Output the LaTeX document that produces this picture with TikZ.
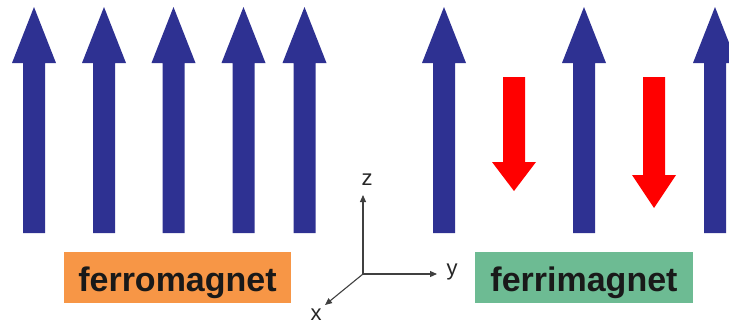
\documentclass[tikz,border=0pt]{standalone}
\usepackage{fontspec}
\setmainfont{Liberation Sans}
\usepackage{xcolor}
\usetikzlibrary{arrows.meta, positioning}

\definecolor{spinblue}{HTML}{2E3192}
\definecolor{spinred}{HTML}{FF0000}
\definecolor{ferroorange}{HTML}{F79646}
\definecolor{ferrigreen}{HTML}{6DBB93}
\definecolor{axisgray}{HTML}{404040}

\tikzset{
  labelbox/.style={inner sep=0pt, minimum height=51pt, text height=27pt, text depth=0pt,
    font=\fontsize{34}{40}\selectfont\bfseries, text=black!90},
  axisline/.style={axisgray, line width=1.1pt, -{Triangle[length=7pt, width=6pt]}},
  axislabel/.style={font=\fontsize{22}{26}\selectfont, text=black!85, inner sep=0pt}
}

\begin{document}
\begin{tikzpicture}[x=1pt, y=-1pt]
  \useasboundingbox (0,0) rectangle (729,327);
  \clip (0,0) rectangle (729,327);

  % spin-up moments (ferromagnet and ferrimagnet)
  \foreach \c in {34, 104, 173.5, 243.5, 304.5, 444, 584, 715} {
    \fill[spinblue] (\c-11,233) -- (\c-11,63) -- (\c-22,63) -- (\c,7)
      -- (\c+22,63) -- (\c+11,63) -- (\c+11,233) -- cycle;
  }

  % smaller antiparallel moments
  \foreach \c/\b/\t in {514/162/191, 654/175/208} {
    \fill[spinred] (\c-11,77) -- (\c-11,\b) -- (\c-22,\b) -- (\c,\t)
      -- (\c+22,\b) -- (\c+11,\b) -- (\c+11,77) -- cycle;
  }

  % labels
  \node[labelbox, fill=ferroorange, minimum width=227pt] (ferro) at (177.5,277.5) {ferromagnet};
  \node[labelbox, fill=ferrigreen, minimum width=218pt] (ferri) at (584,277.5) {ferrimagnet};

  % coordinate axes
  \coordinate (origin) at (363,274);
  \coordinate (ztip) at (363,195);
  \coordinate (ytip) at (437,274);
  \coordinate (xtip) at (325,305);
  \draw[axisline] (origin) -- (ztip);
  \draw[axisline] (origin) -- (ytip);
  \draw[axisline] (origin) -- (xtip);
  \node[axislabel] (zlab) at (367,180) {z};
  \node[axislabel] (ylab) at (452,272) {y};
  \node[axislabel] (xlab) at (316,315) {x};
\end{tikzpicture}
\end{document}
